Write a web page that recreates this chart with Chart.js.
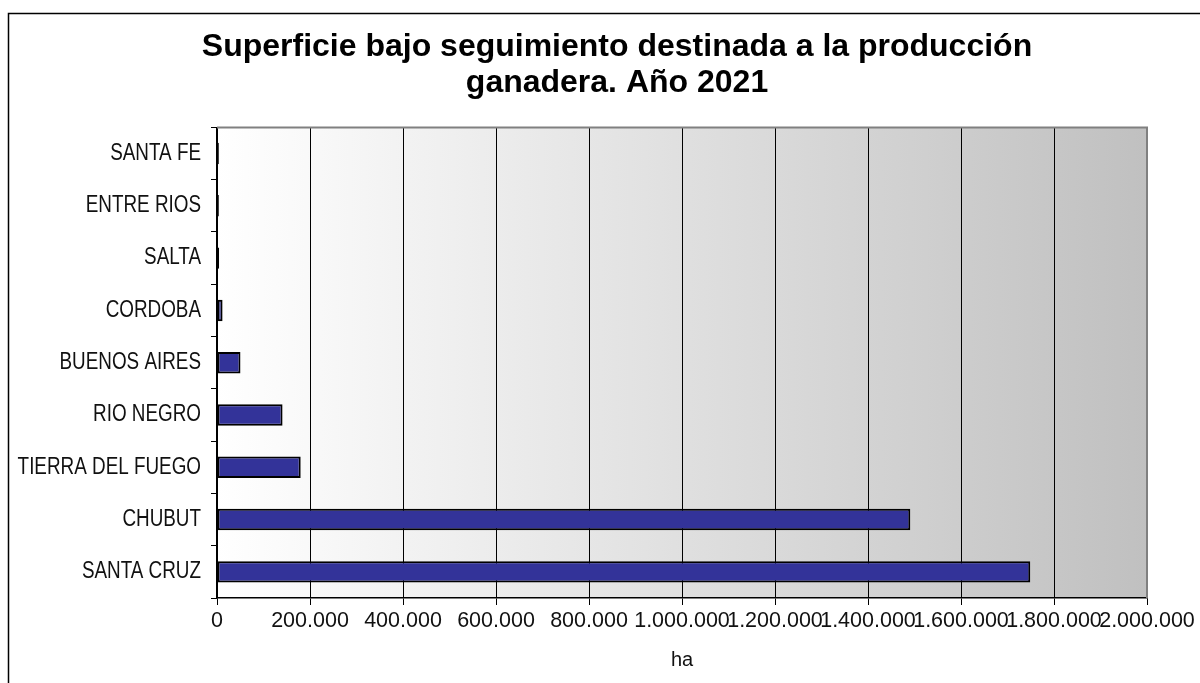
<!DOCTYPE html>
<html>
<head>
<meta charset="utf-8">
<script src="https://cdn.jsdelivr.net/npm/chart.js@4.4.1/dist/chart.umd.min.js"></script>
<style>
  body { margin: 0; background: #fff; }
  #wrap { width: 1200px; height: 683px; }
</style>
</head>
<body>
<div id="wrap"><canvas id="superficieChart" width="1200" height="683"></canvas></div>
<script>
const provincias = ["SANTA FE", "ENTRE RIOS", "SALTA", "CORDOBA", "BUENOS AIRES", "RIO NEGRO", "TIERRA DEL FUEGO", "CHUBUT", "SANTA CRUZ"];
const superficieHa = [4000, 4000, 4500, 12000, 50500, 141000, 180000, 1491000, 1749000];
const tituloLineas = ["Superficie bajo seguimiento destinada a la producción", "ganadera. Año 2021"];
const ejeX = { min: 0, max: 2000000, step: 200000, titulo: "ha" };

function formatMiles(v) {
  return String(Math.round(v)).replace(/\B(?=(\d{3})+(?!\d))/g, ".");
}

// gradient plot background, frame, and condensed category labels
const plotBg = {
  id: "plotBg",
  beforeDraw(chart) {
    const { ctx, chartArea: a } = chart;
    const g = ctx.createLinearGradient(a.left, 0, a.right, 0);
    g.addColorStop(0, "#ffffff");
    g.addColorStop(1, "#c0c0c0");
    ctx.save();
    ctx.fillStyle = g;
    ctx.fillRect(a.left, a.top, a.width, a.height);
    ctx.restore();
  },
  afterDraw(chart) {
    const { ctx, chartArea: a } = chart;
    ctx.save();
    ctx.strokeStyle = "#808080";
    ctx.lineWidth = 2;
    ctx.beginPath();
    ctx.moveTo(a.left, a.top);
    ctx.lineTo(a.right, a.top);
    ctx.lineTo(a.right, a.bottom);
    ctx.stroke();
    ctx.strokeStyle = "#000";
    ctx.lineWidth = 1.5;
    ctx.strokeRect(8.5, 13.5, 1250, 720);

    // y labels drawn narrow (like Arial Narrow)
    const ys = chart.scales.y;
    ctx.fillStyle = "#111";
    ctx.font = "23px 'Liberation Sans', Arial, sans-serif";
    ctx.textAlign = "right";
    ctx.textBaseline = "middle";
    chart.data.labels.forEach((lab, i) => {
      ctx.save();
      ctx.translate(201, ys.getPixelForValue(i));
      ctx.scale(0.82, 1);
      ctx.fillText(lab, 0, 0);
      ctx.restore();
    });
    ctx.restore();
  }
};

const ctx = document.getElementById("superficieChart").getContext("2d");
new Chart(ctx, {
  type: "bar",
  data: {
    labels: provincias,
    datasets: [
      {
        label: "Superficie (ha)",
        data: superficieHa,
        backgroundColor: "#333399",
        borderColor: "#000000",
        borderWidth: 2,
        borderSkipped: false,
        barPercentage: 0.41,
        categoryPercentage: 1,
      },
    ],
  },
  options: {
    indexAxis: "y",
    responsive: false,
    animation: false,
    // left padding shifts the title centre to match the original
    layout: { padding: { left: 87, right: 53, top: 0, bottom: 0 } },
    scales: {
      x: {
        min: ejeX.min,
        max: ejeX.max,
        afterFit: (s) => { s.height = 85; },
        ticks: {
          stepSize: ejeX.step,
          autoSkip: false,
          maxRotation: 0,
          padding: 3,
          color: "#111",
          font: { family: "'Liberation Sans', Arial, sans-serif", size: 21.5 },
          callback: (v) => formatMiles(v),
        },
        grid: {
          color: "#000",
          lineWidth: 1,
          tickLength: 7,
        },
        border: { color: "#000", width: 1.5 },
        title: {
          display: true,
          text: ejeX.titulo,
          color: "#111",
          font: { family: "'Liberation Sans', Arial, sans-serif", size: 20 },
          padding: { top: 0, bottom: 11 },
        },
      },
      y: {
        afterFit: (s) => { s.width = 130; },
        offset: true,
        ticks: { display: false },
        grid: {
          offset: true,
          drawOnChartArea: false,
          color: "#000",
          tickLength: 6,
        },
        border: { color: "#000", width: 1.5 },
      },
    },
    plugins: {
      legend: { display: false },
      tooltip: { enabled: false },
      title: {
        display: true,
        text: tituloLineas,
        color: "#000",
        font: { family: "'Liberation Sans', Arial, sans-serif", size: 32, weight: "bold", lineHeight: 1.1 },
        padding: { top: 30, bottom: 27 },
      },
    },
  },
  plugins: [plotBg],
});
</script>
</body>
</html>
